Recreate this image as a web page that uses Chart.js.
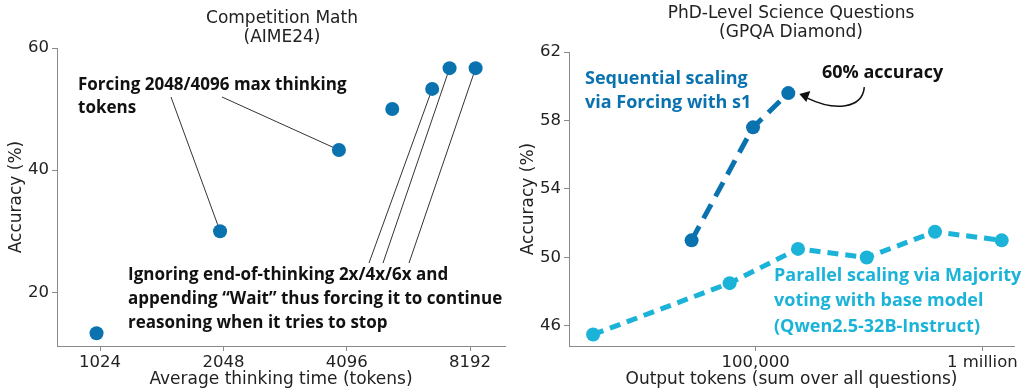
<!DOCTYPE html>
<html>
<head>
<meta charset="utf-8">
<script src="https://cdn.jsdelivr.net/npm/chart.js@4/dist/chart.umd.min.js"></script>
<style>
  html, body { margin: 0; padding: 0; background: #fff; }
  .wrap { position: relative; width: 1024px; height: 390px; }
  .panel { position: absolute; top: 0; width: 512px; height: 390px; }
</style>
</head>
<body>
<div class="wrap">
  <div class="panel" style="left:0"><canvas id="aime"></canvas></div>
  <div class="panel" style="left:512px"><canvas id="gpqa"></canvas></div>
</div>
<script>
// ---- data: AIME24 ----
var aimeTokens   = [1004, 2010, 3920, 5290, 6620, 7300, 8450];
var aimeAccuracy = [13.3, 30.0, 43.3, 50.0, 53.3, 56.7, 56.7];
var aimeXTicks   = [1024, 2048, 4096, 8192];
var aimeYTicks   = [20, 40, 60];

// ---- data: GPQA Diamond ----
var seqTokens    = [52200, 97400, 139400];
var seqAccuracy  = [51.0, 57.6, 59.6];
var parTokens    = [19200, 76800, 153800, 309000, 618000, 1217000];
var parAccuracy  = [45.5, 48.5, 50.5, 50.0, 51.5, 51.0];
var gpqaXTicks   = [100000, 1000000];
var gpqaXLabels  = ['100,000', '1 million'];
var gpqaYTicks   = [46, 50, 54, 58, 62];

var BLUE = '#0b72b0';
var CYAN = '#1bb3d8';
var TEXT = '#222222';
var SPINE = '#8a8a8a';
var TICKFONT = { family: 'DejaVu Sans', size: 16.5 };
var TITLEFONT = { family: 'DejaVu Sans', size: 17 };

function pairs(xs, ys) {
    return xs.map(function (x, i) { return { x: x, y: ys[i] }; });
}

function fixedTicks(values) {
    return function (scale) {
        scale.ticks = values.map(function (v) { return { value: v }; });
    };
}

function yScale(min, max, ticks, width) {
    return {
        type: 'linear', min: min, max: max,
        afterBuildTicks: fixedTicks(ticks),
        afterFit: function (s) { s.width = width; },
        grid: { drawOnChartArea: false, color: SPINE, tickLength: 5 },
        border: { color: SPINE, width: 1 },
        ticks: { color: TEXT, font: TICKFONT, padding: 3 },
        title: { display: true, text: 'Accuracy (%)', color: TEXT, font: TITLEFONT, padding: { top: 6, bottom: 0 } }
    };
}

function xScale(min, max, ticks, labels, title) {
    return {
        type: 'logarithmic', min: min, max: max,
        afterBuildTicks: fixedTicks(ticks),
        afterFit: function (s) { s.height = 44; },
        grid: { drawOnChartArea: false, color: SPINE, tickLength: 5 },
        border: { color: SPINE, width: 1 },
        ticks: {
            color: TEXT, font: TICKFONT, padding: 2, autoSkip: false, maxRotation: 0,
            callback: function (v) { var i = ticks.indexOf(v); return labels ? labels[i] : String(v); }
        },
        title: { display: true, text: title, color: TEXT, font: TITLEFONT, padding: { top: 0, bottom: 0 } }
    };
}

// draws the two-line title plus annotation texts / leader lines
function notesPlugin(cfg) {
    return {
        id: 'notes',
        beforeDatasetsDraw: function (chart) {
            var ctx = chart.ctx;
            ctx.save();
            ctx.strokeStyle = '#333';
            ctx.lineWidth = 1;
            (cfg.leaders || []).forEach(function (l) {
                var p = chart.getDatasetMeta(l.ds).data[l.idx];
                ctx.beginPath();
                ctx.moveTo(l.from[0], l.from[1]);
                ctx.lineTo(p.x, p.y);
                ctx.stroke();
            });
            ctx.restore();
        },
        afterDatasetsDraw: function (chart) {
            var ctx = chart.ctx;
            ctx.save();
            ctx.fillStyle = TEXT;
            ctx.font = '17px "DejaVu Sans"';
            ctx.textAlign = 'center';
            ctx.textBaseline = 'middle';
            cfg.title.forEach(function (t, i) {
                ctx.fillText(t, cfg.titleX, cfg.titleY + i * 19);
            });
            ctx.font = cfg.noteFont;
            ctx.textAlign = 'left';
            (cfg.notes || []).forEach(function (n) {
                ctx.fillStyle = n.color;
                n.lines.forEach(function (t, i) {
                    ctx.fillText(t, n.x, n.y + i * n.lh);
                });
            });
            if (cfg.arrow) {
                var p = chart.getDatasetMeta(cfg.arrow.ds).data[cfg.arrow.idx];
                var tipX = p.x + 11, tipY = p.y + 1;
                var tailX = p.x + 76, tailY = p.y - 6;
                ctx.strokeStyle = '#111';
                ctx.fillStyle = '#111';
                ctx.lineWidth = 1.5;
                ctx.beginPath();
                ctx.moveTo(tailX, tailY);
                ctx.bezierCurveTo(tailX - 2, tailY + 22, tailX - 30, tailY + 24, tipX + 8, tipY + 4);
                ctx.stroke();
                // arrow head
                ctx.beginPath();
                ctx.moveTo(tipX, tipY);
                ctx.lineTo(tipX + 11, tipY - 3);
                ctx.lineTo(tipX + 7, tipY + 8);
                ctx.closePath();
                ctx.fill();
            }
            ctx.restore();
        }
    };
}

var base = {
    responsive: true,
    maintainAspectRatio: false,
    animation: false,
    plugins: { legend: { display: false }, tooltip: { enabled: false } }
};

// ---- left: Competition Math ----
new Chart(document.getElementById('aime'), {
    type: 'scatter',
    data: {
        datasets: [{
            data: pairs(aimeTokens, aimeAccuracy),
            backgroundColor: BLUE, borderColor: BLUE,
            pointRadius: 7, pointBorderWidth: 0
        }]
    },
    options: Object.assign({}, base, {
        layout: { padding: { top: 48, right: 5, left: 0, bottom: 0 } },
        scales: {
            x: xScale(804, 9967, aimeXTicks, null, 'Average thinking time (tokens)'),
            y: yScale(11.2, 60, aimeYTicks, 57)
        }
    }),
    plugins: [notesPlugin({
        title: ['Competition Math', '(AIME24)'], titleX: 282, titleY: 19,
        noteFont: 'bold 17px "Open Sans"',
        notes: [
            { color: '#111', x: 78, y: 85, lh: 23.5, lines: ['Forcing 2048/4096 max thinking', 'tokens'] },
            { color: '#111', x: 128, y: 275, lh: 24, lines: ['Ignoring end-of-thinking 2x/4x/6x and', 'appending \u201cWait\u201d thus forcing it to continue', 'reasoning when it tries to stop'] }
        ],
        leaders: [
            { from: [171, 97], ds: 0, idx: 1 },
            { from: [222, 97], ds: 0, idx: 2 },
            { from: [369, 263], ds: 0, idx: 4 },
            { from: [383, 263], ds: 0, idx: 5 },
            { from: [409, 263], ds: 0, idx: 6 }
        ]
    })]
});

// ---- right: PhD-Level Science Questions ----
new Chart(document.getElementById('gpqa'), {
    type: 'line',
    data: {
        datasets: [{
            data: pairs(parTokens, parAccuracy),
            borderColor: CYAN, backgroundColor: CYAN,
            borderWidth: 5, borderDash: [11, 7], borderCapStyle: 'butt',
            pointRadius: 7, pointBorderWidth: 0, tension: 0
        }, {
            data: pairs(seqTokens, seqAccuracy),
            borderColor: BLUE, backgroundColor: BLUE,
            borderWidth: 5, borderDash: [16, 9], borderCapStyle: 'butt',
            pointRadius: 7, pointBorderWidth: 0, tension: 0
        }]
    },
    options: Object.assign({}, base, {
        layout: { padding: { top: 52, right: 10, left: 0, bottom: 0 } },
        scales: {
            x: xScale(15030, 1379000, gpqaXTicks, gpqaXLabels, 'Output tokens (sum over all questions)'),
            y: yScale(44.83, 62, gpqaYTicks, 57)
        }
    }),
    plugins: [notesPlugin({
        title: ['PhD-Level Science Questions', '(GPQA Diamond)'], titleX: 279, titleY: 14,
        noteFont: 'bold 18px "Open Sans"',
        notes: [
            { color: BLUE, x: 73, y: 79, lh: 24, lines: ['Sequential scaling', 'via Forcing with s1'] },
            { color: '#111', x: 310, y: 73, lh: 24, lines: ['60% accuracy'] },
            { color: CYAN, x: 262, y: 276, lh: 25.3, lines: ['Parallel scaling via Majority', 'voting with base model', '(Qwen2.5-32B-Instruct)'] }
        ],
        arrow: { ds: 1, idx: 2 }
    })]
});
</script>
</body>
</html>
